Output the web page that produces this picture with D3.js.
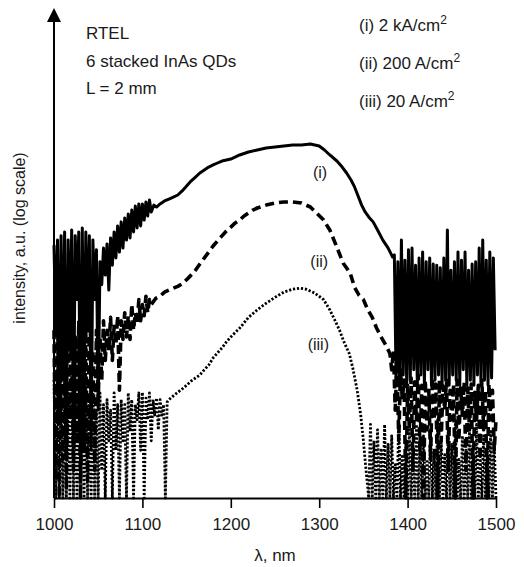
<!DOCTYPE html>
<html lang="en">
<head>
<meta charset="UTF-8">
<title>RTEL spectra</title>
<script src="https://cdn.jsdelivr.net/npm/d3@7"></script>
<style>
    body { margin: 0; background: #fff; }
    text { font-family: "Liberation Sans", Arial, sans-serif; fill: #1a1a1a; }
</style>
</head>
<body>
<div id="chart"></div>
<script>
// wavelength ticks (nm)
const xTicks = [1000, 1100, 1200, 1300, 1400, 1500];

// spectra: [wavelength nm, intensity a.u.]
// (i) 2 kA/cm2
const curveI = [
    [1000,128],[1002,25],[1004,141],[1006,4.5],[1008,153],[1010,9.6],[1012,165],[1014,2.1],
    [1016,141],[1018,17],[1020,171],[1022,3.0],[1024,153],[1026,45],[1028,165],[1030,1.7],
    [1032,178],[1034,6.6],[1036,165],[1038,25],[1040,153],[1042,2.5],[1044,141],[1046,45],
    [1048,117],[1050,5.4],[1052,93],[1054,60],[1056,121],[1058,72],[1060,131],[1062,54],
    [1064,147],[1066,87],[1068,165],[1070,100],[1072,185],[1074,112],[1076,200],[1078,121],
    [1080,215],[1082,141],[1084,233],[1086,147],[1088,251],[1090,165],[1092,271],[1094,178],
    [1096,282],[1098,185],[1100,282],[1102,207],[1104,293],[1106,224],[1108,304],[1110,242],
    [1113,276],[1116,266],[1120,282],[1125,299],[1130,310],[1135,322],[1140,335],[1145,362],
    [1150,398],[1155,438],[1160,473],[1165,511],[1170,541],[1175,573],[1180,596],[1185,619],
    [1190,643],[1200,668],[1210,722],[1220,764],[1230,794],[1240,825],[1250,841],[1260,858],
    [1270,874],[1280,874],[1290,891],[1300,858],[1306,794],[1312,722],[1320,643],[1326,573],
    [1331,511],[1336,447],[1340,391],[1344,329],[1348,276],[1352,242],[1356,220],[1361,200],
    [1366,171],[1372,141],[1378,121],[1383,102],
    [1385,106],[1387,9.6],[1389,93],[1391,8.7],[1393,141],[1395,10.6],[1397,96],[1399,8.7],
    [1401,117],[1403,9.6],[1405,121],[1407,11.7],[1409,87],[1411,8.7],[1413,100],[1415,10.6],
    [1417,112],[1419,8.7],[1421,93],[1423,11.7],[1425,100],[1427,8.7],[1429,89],[1431,9.6],
    [1433,87],[1435,10.6],[1437,83],[1439,8.7],[1441,100],[1443,9.6],[1445,171],[1447,8.7],
    [1449,79],[1451,10.6],[1453,93],[1455,9.6],[1457,112],[1459,8.7],[1461,96],[1463,11.7],
    [1465,112],[1467,8.7],[1469,79],[1471,9.6],[1473,89],[1475,8.7],[1477,93],[1479,10.6],
    [1481,121],[1483,8.7],[1485,141],[1487,9.6],[1489,96],[1491,8.7],[1493,112],[1495,10],
    [1497,100],[1499,17]
];

// (ii) 200 A/cm2
const curveII = [
    [1000,25],[1002,1.4],[1004,45],[1006,1],[1008,30],[1010,2.1],[1012,37],[1014,1.17],
    [1016,25],[1018,4.5],[1020,45],[1022,1.7],[1024,22],[1026,3.0],[1028,30],[1030,1],
    [1032,37],[1034,2.5],[1036,25],[1038,1.4],[1040,30],[1042,4.5],[1044,17],[1046,1.7],
    [1048,25],[1050,6.6],[1052,22],[1054,9.6],[1056,30],[1058,14],[1060,25],[1062,17],
    [1064,32],[1066,14],[1068,27],[1070,19],[1072,33],[1074,7.9],[1076,30],[1078,21],
    [1080,35],[1082,22],[1084,33],[1086,21],[1088,41],[1090,25],[1092,35],[1094,28],
    [1096,45],[1098,30],[1100,41],[1102,33],[1104,48],[1106,35],[1108,45],[1110,41],
    [1115,46],[1120,48],[1125,52],[1130,54],[1135,56],[1140,58],[1145,61],[1150,66],
    [1155,72],[1160,79],[1165,89],[1170,100],[1175,112],[1180,126],[1185,139],[1190,153],
    [1195,168],[1200,181],[1205,196],[1210,207],[1215,224],[1220,237],[1225,251],[1230,261],
    [1240,276],[1250,287],[1260,293],[1270,293],[1280,287],[1290,266],[1297,237],[1305,207],
    [1312,171],[1320,123],[1327,91],[1335,75],[1340,57],[1345,49],[1350,45],[1355,37],
    [1360,32],[1365,26],[1370,22],[1375,19],[1380,16],
    [1382,11.7],[1384,17],[1386,5.4],[1388,14],[1390,3.0],[1392,11.7],[1394,6.6],[1396,9.6],
    [1398,1],[1400,8.7],[1402,3.7],[1404,10],[1406,1.7],[1408,9.3],[1410,4.5],[1412,10.6],
    [1414,2.5],[1416,8.7],[1418,1],[1420,9.6],[1422,3.7],[1424,7.9],[1426,2.1],[1428,10],
    [1430,4.5],[1432,8.9],[1434,1],[1436,9.6],[1438,3.0],[1440,8.6],[1442,5.4],[1444,9.6],
    [1446,1.7],[1448,7.9],[1450,4.5],[1452,8.9],[1454,1],[1456,9.6],[1458,3.0],[1460,8.3],
    [1462,4.9],[1464,9.3],[1466,1.7],[1468,8.3],[1470,3.7],[1472,8.9],[1474,1],[1476,7.6],
    [1478,4.5],[1480,8.7],[1482,2.1],[1484,9.6],[1486,3.7],[1488,7.9],[1490,1],[1492,8.9],
    [1494,4.5],[1496,7.9],[1498,2.5],[1500,4.5]
];

// (iii) 20 A/cm2
const curveIII = [
    [1000,9.6],[1002,1],[1004,11.7],[1006,1],[1008,7.9],[1010,1],[1012,10.6],[1014,1],
    [1016,8.7],[1018,1],[1020,11.7],[1022,1],[1024,7.9],[1026,1],[1028,9.6],[1030,1],
    [1032,7.5],[1034,1],[1036,8.7],[1038,1],[1040,6.6],[1042,1],[1044,7.9],[1046,1],
    [1048,5.4],[1050,1],[1052,7.5],[1054,1.7],[1056,6.0],[1058,1],[1060,6.6],[1062,3.0],
    [1064,5.4],[1066,1],[1068,7.5],[1070,2.5],[1072,6.0],[1074,1],[1076,6.6],[1078,3.0],
    [1080,6.0],[1082,1],[1084,7.5],[1086,3.7],[1088,6.6],[1090,1],[1092,6.0],[1094,4.5],
    [1096,7.5],[1098,2.5],[1100,7.6],[1102,1],[1104,6.8],[1106,4.5],[1108,7.5],[1110,3.0],
    [1112,6.6],[1114,4.9],[1116,6.8],[1118,3.7],[1120,6.6],[1122,4.9],[1124,6.0],[1126,1],
    [1128,6.3],[1130,6.6],[1135,7.1],[1140,7.6],[1145,8.1],[1150,8.7],[1155,9.4],[1160,10],
    [1165,10.6],[1170,11.7],[1175,12.8],[1180,14.7],[1185,16.2],[1190,17.8],[1195,20],
    [1200,22],[1210,26],[1220,32],[1230,37],[1240,42],[1250,47],[1260,52],[1270,55],
    [1278,56],[1285,55],[1295,51],[1305,45],[1312,37],[1318,30],[1323,25],[1328,20],
    [1334,16],[1338,12.1],[1343,7.9],[1347,4.9],[1350,3.0],[1353,1.7],[1356,1],
    [1358,4.1],[1360,1],[1362,3.0],[1364,1],[1366,3.7],[1368,1],[1370,2.5],[1372,1],
    [1374,4.1],[1376,1],[1378,2.8],[1380,1],[1382,3.3],[1384,1],[1386,1.9],[1388,1],
    [1390,4.5],[1392,1],[1394,2.3],[1396,1],[1398,3.0],[1400,1],[1402,3.7],[1404,1],
    [1406,2.5],[1408,1],[1410,4.1],[1412,1],[1414,2.8],[1416,1],[1418,3.3],[1420,1],
    [1422,2.1],[1424,1],[1426,3.7],[1428,1],[1430,2.5],[1432,1],[1434,4.5],[1436,1],
    [1438,3.0],[1440,1],[1442,2.3],[1444,1],[1446,3.7],[1448,1],[1450,2.8],[1452,1],
    [1454,4.1],[1456,1],[1458,2.1],[1460,1],[1462,3.3],[1464,1],[1466,2.5],[1468,1],
    [1470,3.7],[1472,1],[1474,2.8],[1476,1],[1478,4.1],[1480,1],[1482,2.3],[1484,1],
    [1486,3.3],[1488,1],[1490,2.5],[1492,1],[1494,3.7],[1496,1],[1498,2.8],[1500,1]
];

// texts
const headerLines = ["RTEL", "6 stacked InAs QDs", "L = 2 mm"];
const legendLines = [["(i) 2 kA/cm", "2"], ["(ii) 200 A/cm", "2"], ["(iii) 20 A/cm", "2"]];
const curveNames = ["(i)", "(ii)", "(iii)"];
// where the curve names sit: [wavelength, intensity]
const curveNameAt = [[1301, 464], [1300, 84], [1299, 17]];

const width = 524, height = 567;
const svg = d3.select("#chart").append("svg").attr("width", width).attr("height", height);

const x = d3.scaleLinear().domain([1000, 1500]).range([54, 496]);
const y = d3.scaleLog().domain([1, 10000]).range([498, 18]).clamp(true);

const line = d3.line().x(d => x(d[0])).y(d => y(d[1]));

// spectra
const series = [
    { data: curveIII, width: 2.8, dash: "2.2,1.8" },
    { data: curveII, width: 3.6, dash: "9,5" },
    { data: curveI, width: 3, dash: null }
];
svg.append("g").selectAll("path")
    .data(series)
    .join("path")
    .attr("d", d => line(d.data))
    .attr("fill", "none")
    .attr("stroke", "#000")
    .attr("stroke-width", d => d.width)
    .attr("stroke-dasharray", d => d.dash)
    .attr("stroke-linejoin", "round");

// x axis
const xAxis = svg.append("g")
    .attr("transform", `translate(0,${y(1)})`)
    .call(d3.axisBottom(x).tickValues(xTicks).tickSize(10).tickSizeOuter(0).tickPadding(10).tickFormat(d3.format("d")));
xAxis.select(".domain").attr("stroke-width", 2);
xAxis.selectAll(".tick line").attr("stroke-width", 1.6);
xAxis.selectAll(".tick text").style("font-size", "17px").attr("fill", "#1a1a1a")
    .style("font-family", '"Liberation Sans", Arial, sans-serif');

svg.append("text")
    .attr("x", (x.range()[0] + x.range()[1]) / 2)
    .attr("y", 561)
    .attr("text-anchor", "middle")
    .style("font-size", "17px")
    .text("λ, nm");

// y axis with arrow, no ticks
const yTop = 22;
svg.append("line")
    .attr("x1", x(1000)).attr("x2", x(1000))
    .attr("y1", y(1)).attr("y2", yTop)
    .attr("stroke", "#000").attr("stroke-width", 2);
svg.append("path")
    .attr("d", `M${x(1000)},8 L${x(1000) - 7},${yTop} L${x(1000) + 7},${yTop} Z`)
    .attr("fill", "#000");

svg.append("text")
    .attr("transform", "translate(25,238) rotate(-90)")
    .attr("text-anchor", "middle")
    .style("font-size", "16px")
    .text("intensity, a.u. (log scale)");

// header text
svg.append("g").selectAll("text")
    .data(headerLines)
    .join("text")
    .attr("x", 86)
    .attr("y", (d, i) => 39 + i * 27.5)
    .style("font-size", "17px")
    .text(d => d);

// legend text with superscripts
const leg = svg.append("g").selectAll("text")
    .data(legendLines)
    .join("text")
    .attr("x", 359)
    .attr("y", (d, i) => 31 + i * 38)
    .style("font-size", "17px");
leg.append("tspan").text(d => d[0]);
leg.append("tspan").attr("dy", -7).style("font-size", "12px").text(d => d[1]);

// curve names
svg.append("g").selectAll("text")
    .data(curveNames)
    .join("text")
    .attr("x", (d, i) => x(curveNameAt[i][0]))
    .attr("y", (d, i) => y(curveNameAt[i][1]))
    .attr("text-anchor", "middle")
    .style("font-size", "16px")
    .attr("fill", "#333")
    .text(d => d);
</script>
</body>
</html>
